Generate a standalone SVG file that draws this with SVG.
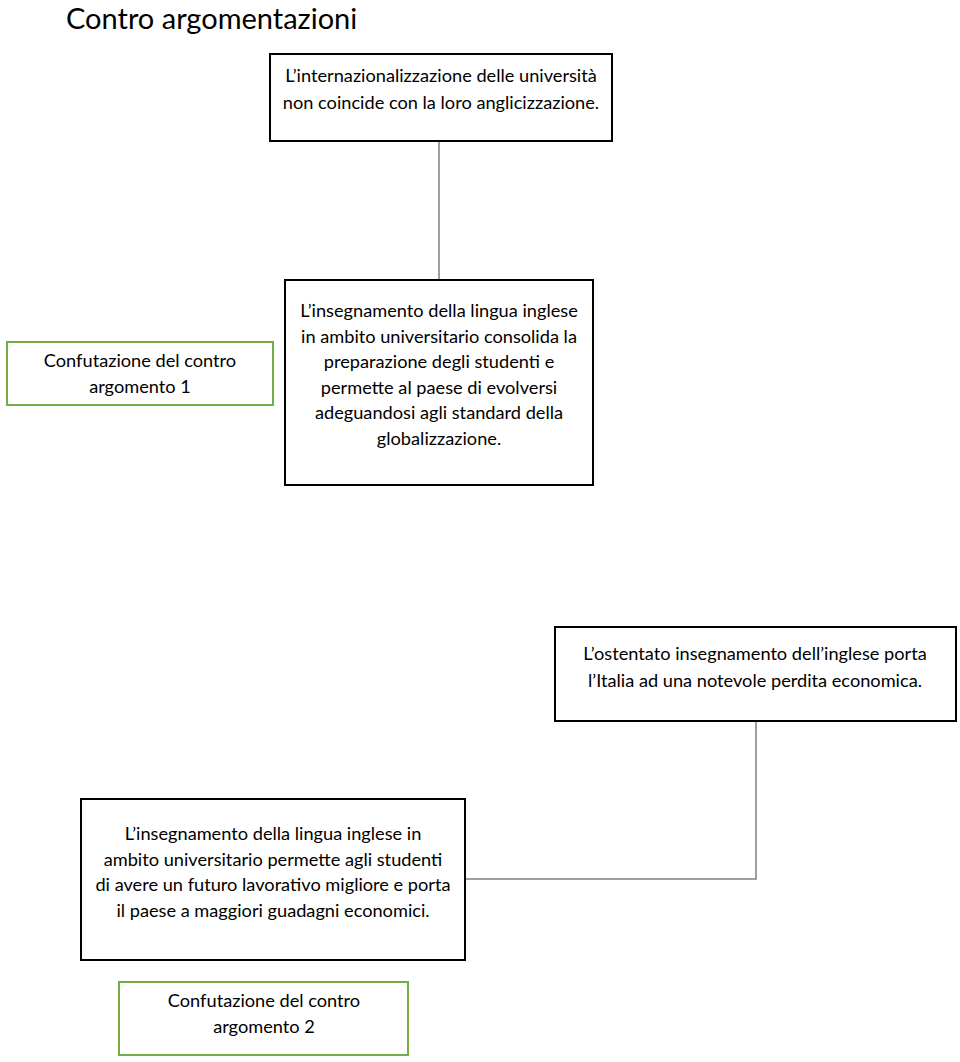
<svg xmlns="http://www.w3.org/2000/svg" width="960" height="1062" viewBox="0 0 960 1062">
<style>
.t{font-family:Lato,"Open Sans","Liberation Sans",sans-serif;font-size:18.2px;fill:#000;text-anchor:middle}
.box{fill:#fff;stroke:#000;stroke-width:2}
.gbox{fill:#fff;stroke:#70AD47;stroke-width:2}
.conn{fill:none;stroke:#7f7f7f;stroke-width:1.5}
</style>
<rect width="960" height="1062" fill="#fff"/>
<text x="66" y="29" font-family="Lato,'Open Sans','Liberation Sans',sans-serif" font-size="29" fill="#000">Contro argomentazioni</text>
<g id="connectors">
<path class="conn" d="M439 141 V280"/>
<path class="conn" d="M756 721 V879 H465"/>
</g>
<g id="n1">
<rect class="box" x="270" y="54" width="342" height="87"/>
<text class="t" x="441" y="82">L’internazionalizzazione delle università</text>
<text class="t" x="441" y="109">non coincide con la loro anglicizzazione.</text>
</g>
<g id="n2">
<rect class="box" x="285" y="280" width="308" height="205"/>
<text class="t" x="439" y="317">L’insegnamento della lingua inglese</text>
<text class="t" x="439" y="343">in ambito universitario consolida la</text>
<text class="t" x="439" y="368">preparazione degli studenti e</text>
<text class="t" x="439" y="394">permette al paese di evolversi</text>
<text class="t" x="439" y="419">adeguandosi agli standard della</text>
<text class="t" x="439" y="445">globalizzazione.</text>
</g>
<g id="g1">
<rect class="gbox" x="7" y="342" width="266" height="63"/>
<text class="t" x="140" y="367">Confutazione del contro</text>
<text class="t" x="140" y="393">argomento 1</text>
</g>
<g id="n3">
<rect class="box" x="555" y="627" width="401" height="94"/>
<text class="t" x="755" y="660">L’ostentato insegnamento dell’inglese porta</text>
<text class="t" x="755" y="687">l’Italia ad una notevole perdita economica.</text>
</g>
<g id="n4">
<rect class="box" x="81" y="799" width="384" height="161"/>
<text class="t" x="273" y="840">L’insegnamento della lingua inglese in</text>
<text class="t" x="273" y="866">ambito universitario permette agli studenti</text>
<text class="t" x="273" y="891">di avere un futuro lavorativo migliore e porta</text>
<text class="t" x="273" y="917">il paese a maggiori guadagni economici.</text>
</g>
<g id="g2">
<rect class="gbox" x="119" y="982" width="289" height="73"/>
<text class="t" x="264" y="1007">Confutazione del contro</text>
<text class="t" x="264" y="1033">argomento 2</text>
</g>
</svg>
